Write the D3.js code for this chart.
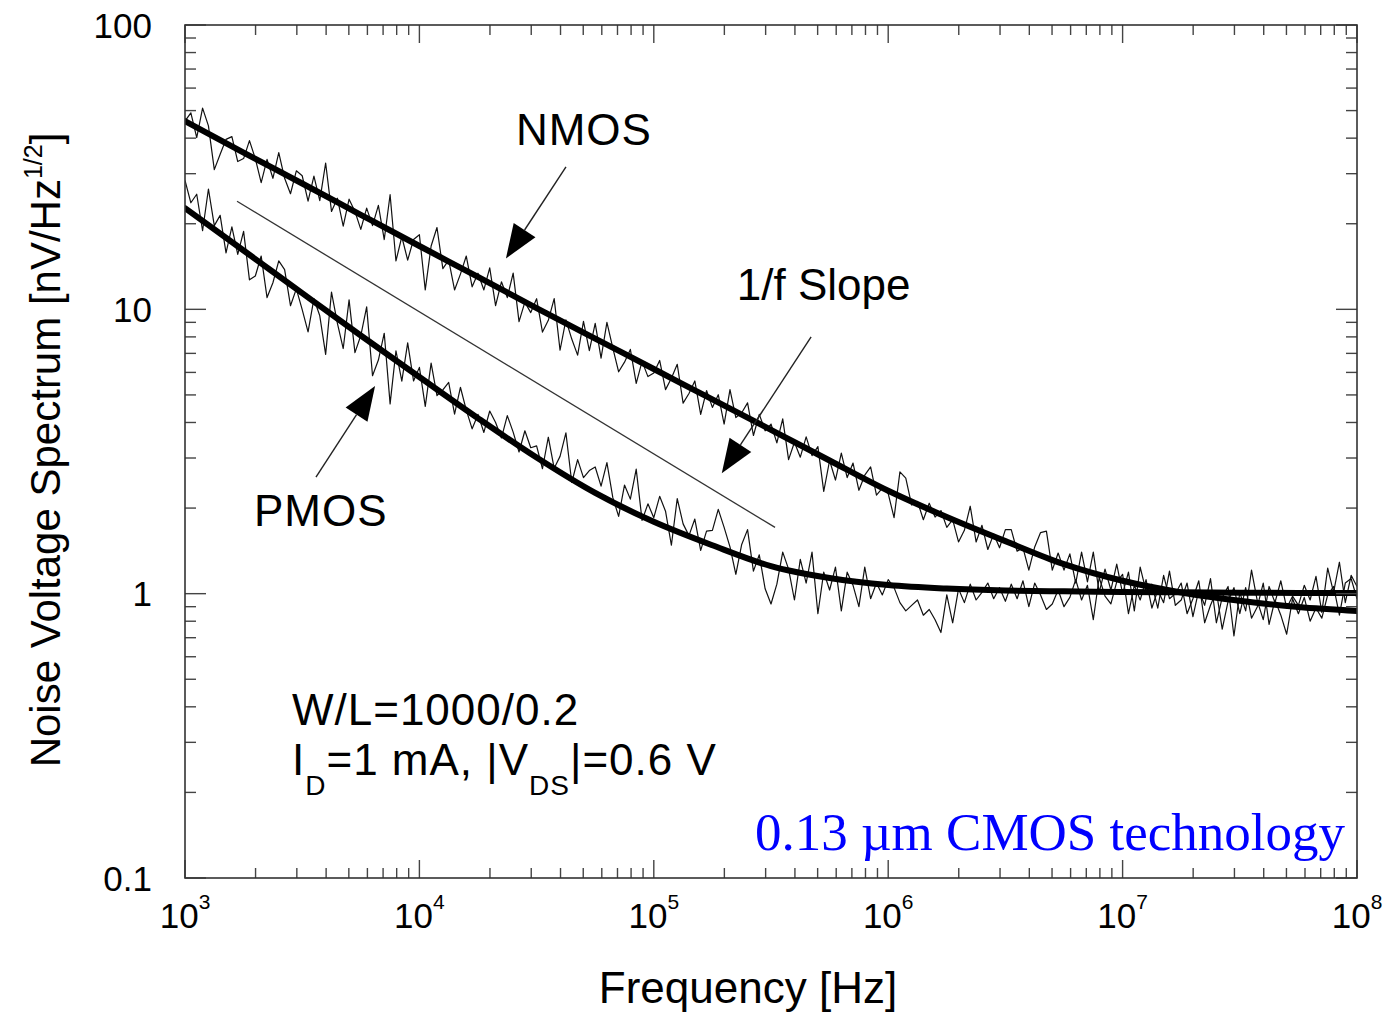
<!DOCTYPE html>
<html lang="en">
<head>
  <meta charset="UTF-8">
  <title>Noise Voltage Spectrum</title>
  <script src="https://d3js.org/d3.v7.min.js"></script>
  <style>
    body {
      margin: 0;
      background-color: #ffffff;
    }
    svg {
      display: block;
      font-family: "Liberation Sans", Arial, sans-serif;
    }
  </style>
</head>
<body>
  <div id="chart"></div>

  <script>
    // fitted curves, sampled every quarter decade from 1 kHz to 100 MHz
    const fitFreq = [1e3, 1.778e3, 3.162e3, 5.623e3, 1e4, 1.778e4, 3.162e4, 5.623e4, 1e5, 1.778e5, 3.162e5,
      5.623e5, 1e6, 1.778e6, 3.162e6, 5.623e6, 1e7, 1.778e7, 3.162e7, 5.623e7, 1e8];
    const nmosFit = [45.9, 35.6, 27.7, 21.5, 16.7, 13.0, 10.1, 7.89, 6.17, 4.82, 3.77,
      2.94, 2.30, 1.86, 1.53, 1.27, 1.11, 1.01, 0.944, 0.897, 0.869];
    const pmosFit = [22.7, 16.1, 11.4, 8.09, 5.78, 4.14, 3.01, 2.26, 1.79, 1.48, 1.25,
      1.135, 1.072, 1.042, 1.026, 1.019, 1.014, 1.011, 1.008, 1.006, 1.005];

    // measured spectra, 40 points per decade from 1 kHz
    const pointsPerDecade = 40;
    const nmosNoise = [
      45.9, 49.1, 40.2, 51.0, 44.2, 31.0, 35.1, 39.6, 40.5, 33.1,
      33.9, 39.2, 33.9, 27.9, 33.7, 28.9, 35.6, 28.9, 25.5, 30.7,
      29.5, 24.0, 29.4, 24.1, 32.7, 22.1, 24.6, 19.6, 24.4, 22.1,
      19.1, 22.7, 19.7, 23.2, 17.6, 25.3, 14.8, 18.0, 14.9, 17.6,
      18.3, 11.7, 16.7, 19.4, 13.9, 14.9, 11.7, 13.3, 15.4, 12.0,
      13.4, 11.7, 14.0, 10.3, 12.5, 11.0, 13.4, 9.05, 10.6, 9.74,
      10.9, 8.32, 9.15, 10.9, 7.18, 9.18, 7.86, 6.90, 9.07, 7.16,
      8.92, 6.74, 9.00, 7.32, 6.03, 6.52, 7.23, 5.49, 6.56, 5.80,
      5.97, 6.61, 5.22, 5.72, 6.41, 4.68, 5.06, 5.60, 4.27, 5.18,
      4.52, 5.01, 3.95, 5.22, 4.16, 4.33, 4.69, 3.60, 4.27, 3.74,
      3.95, 3.39, 4.12, 2.96, 3.41, 3.02, 3.56, 3.06, 3.29, 2.29,
      2.94, 2.51, 3.12, 2.56, 2.88, 2.31, 2.61, 2.79, 2.22, 2.35,
      2.25, 1.85, 2.68, 2.55, 2.05, 2.11, 1.82, 2.08, 1.86, 1.96,
      1.71, 1.82, 1.52, 1.67, 2.03, 1.52, 1.74, 1.43, 1.62, 1.45,
      1.68, 1.68, 1.41, 1.45, 1.21, 1.46, 1.64, 1.66, 1.21, 1.39,
      1.21, 1.38, 1.09, 1.40, 1.10, 1.40, 1.01, 1.22, 1.03, 1.27,
      1.00, 1.19, 0.87, 1.24, 1.02, 1.08, 0.89, 1.16, 0.96, 1.00,
      1.09, 0.85, 0.96, 1.11, 0.79, 0.91, 1.02, 0.75, 0.94, 1.05,
      0.85, 1.05, 0.82, 0.90, 1.09, 0.78, 0.95, 0.84, 0.72, 0.96,
      0.85, 0.97, 0.80, 0.89, 0.82, 0.99, 1.06, 0.84, 1.09, 1.13, 0.96
    ];
    const pmosNoise = [
      28.4, 23.7, 25.4, 18.9, 26.5, 19.7, 21.4, 15.8, 19.5, 15.6,
      18.8, 12.7, 13.1, 15.4, 11.0, 12.4, 14.8, 13.8, 10.3, 11.8,
      9.98, 8.33, 10.9, 9.49, 6.94, 11.5, 8.95, 7.28, 10.8, 7.04,
      8.09, 10.2, 5.84, 6.63, 8.24, 4.65, 7.15, 5.59, 7.62, 5.60,
      6.25, 4.56, 6.47, 4.97, 5.21, 5.53, 4.28, 5.32, 4.42, 3.80,
      4.27, 3.69, 4.39, 4.00, 3.53, 4.23, 3.70, 3.15, 3.74, 3.26,
      3.31, 2.75, 3.55, 2.76, 3.04, 3.68, 2.46, 2.96, 2.56, 2.71,
      2.79, 2.39, 2.89, 2.18, 1.87, 2.41, 2.15, 2.74, 1.81, 2.07,
      1.85, 2.20, 1.95, 1.48, 2.16, 1.76, 1.60, 1.83, 1.42, 1.66,
      1.67, 1.98, 1.71, 1.46, 1.17, 1.49, 1.68, 1.20, 1.37, 1.04,
      0.92, 1.08, 1.40, 1.22, 0.95, 1.32, 1.09, 1.40, 0.85, 1.19,
      1.03, 1.24, 0.87, 1.19, 1.07, 0.90, 1.24, 0.96, 1.09, 0.99,
      1.12, 1.05, 0.93, 0.87, 0.91, 0.95, 0.84, 0.88, 0.81, 0.73,
      0.99, 0.79, 1.04, 0.93, 1.08, 0.95, 1.01, 1.09, 0.96, 1.05,
      0.94, 1.08, 0.96, 1.11, 0.90, 1.09, 0.99, 0.88, 0.92, 1.03,
      0.90, 0.97, 1.12, 0.95, 1.07, 0.81, 1.14, 0.98, 0.92, 1.10,
      1.17, 0.85, 1.07, 0.95, 1.12, 0.89, 1.03, 0.93, 1.20, 0.91,
      0.95, 1.09, 0.83, 1.03, 0.91, 1.13, 0.79, 0.97, 1.06, 0.71,
      1.01, 0.87, 1.21, 0.94, 0.81, 1.06, 0.93, 1.11, 0.89, 0.98,
      0.91, 1.07, 0.95, 1.15, 0.86, 1.23, 1.01, 1.29, 0.93, 1.16, 1.06
    ];

    const xDecades = [3, 4, 5, 6, 7, 8];
    const yTickLabels = ["0.1", "1", "10", "100"];
    const yTickValues = [0.1, 1, 10, 100];

    // 1/f reference line and arrows, in data units [freq, value]
    const slopeLine = [[1667, 24.0], [3.29e5, 1.71]];
    const arrows = [
      { from: [42200, 31.7], to: [23400, 15.1] },
      { from: [469000, 8.0], to: [195000, 2.65] },
      { from: [3620, 2.57], to: [6470, 5.37] }
    ];
    const labels = [
      { text: "NMOS", f: 25800, v: 37.8, spacing: 1 },
      { text: "1/f Slope", f: 226000, v: 10.8, spacing: 0 },
      { text: "PMOS", f: 1970, v: 1.73, spacing: 1 },
      { text: "W/L=1000/0.2", f: 2860, v: 0.345, spacing: 1 }
    ];

    const width = 1390, height = 1013;
    const margin = { top: 25, right: 33, bottom: 135, left: 185 };
    const W = width - margin.left - margin.right;
    const H = height - margin.top - margin.bottom;

    const svg = d3.select("#chart").append("svg")
      .attr("width", width)
      .attr("height", height);

    const g = svg.append("g")
      .attr("transform", `translate(${margin.left},${margin.top})`);

    const x = d3.scaleLog().domain([1e3, 1e8]).range([0, W]);
    const y = d3.scaleLog().domain([0.1, 100]).range([H, 0]);

    const noiseFreq = nmosNoise.map((d, i) => 1e3 * Math.pow(10, i / pointsPerDecade));

    // clip so nothing spills past the frame
    svg.append("defs").append("clipPath").attr("id", "plotClip")
      .append("rect").attr("width", W).attr("height", H);

    const plot = g.append("g").attr("clip-path", "url(#plotClip)");

    const noiseLine = d3.line()
      .x((d, i) => x(noiseFreq[i]))
      .y(d => y(d));

    [nmosNoise, pmosNoise].forEach(series => {
      plot.append("path")
        .datum(series)
        .attr("d", noiseLine)
        .attr("fill", "none")
        .attr("stroke", "#111")
        .attr("stroke-width", 1.2)
        .attr("stroke-linejoin", "round");
    });

    const fitLine = d3.line()
      .x((d, i) => x(fitFreq[i]))
      .y(d => y(d))
      .curve(d3.curveMonotoneX);

    [nmosFit, pmosFit].forEach(series => {
      plot.append("path")
        .datum(series)
        .attr("d", fitLine)
        .attr("fill", "none")
        .attr("stroke", "#000")
        .attr("stroke-width", 6)
        .attr("stroke-linecap", "round");
    });

    // 1/f slope reference
    g.append("line")
      .attr("x1", x(slopeLine[0][0])).attr("y1", y(slopeLine[0][1]))
      .attr("x2", x(slopeLine[1][0])).attr("y2", y(slopeLine[1][1]))
      .attr("stroke", "#333")
      .attr("stroke-width", 1.3);

    // arrows
    arrows.forEach(a => {
      const x0 = x(a.from[0]), y0 = y(a.from[1]);
      const x1 = x(a.to[0]), y1 = y(a.to[1]);
      const len = Math.hypot(x1 - x0, y1 - y0);
      const ux = (x1 - x0) / len, uy = (y1 - y0) / len;
      const headLen = 34, headHalf = 13;
      const bx = x1 - ux * headLen, by = y1 - uy * headLen;
      g.append("line")
        .attr("x1", x0).attr("y1", y0)
        .attr("x2", bx).attr("y2", by)
        .attr("stroke", "#222")
        .attr("stroke-width", 1.4);
      g.append("polygon")
        .attr("points", [
          [x1, y1],
          [bx - uy * headHalf, by + ux * headHalf],
          [bx + uy * headHalf, by - ux * headHalf]
        ].map(p => p.join(",")).join(" "))
        .attr("fill", "#000");
    });

    // text annotations
    labels.forEach(l => {
      g.append("text")
        .attr("x", x(l.f))
        .attr("y", y(l.v))
        .attr("font-size", 44)
        .attr("letter-spacing", l.spacing)
        .attr("fill", "#000")
        .text(l.text);
    });

    const idText = g.append("text")
      .attr("x", x(2860))
      .attr("y", y(0.230))
      .attr("font-size", 44)
      .attr("letter-spacing", 1)
      .attr("fill", "#000");
    idText.append("tspan").text("I");
    idText.append("tspan").attr("dy", 20).attr("font-size", 28).text("D");
    idText.append("tspan").attr("dy", -20).text("=1 mA, |V");
    idText.append("tspan").attr("dy", 20).attr("font-size", 28).text("DS");
    idText.append("tspan").attr("dy", -20).text("|=0.6 V");

    g.append("text")
      .attr("x", x(8.89e7))
      .attr("y", y(0.125))
      .attr("text-anchor", "end")
      .attr("font-family", "'Liberation Serif', 'Times New Roman', serif")
      .attr("font-size", 53)
      .attr("fill", "#0000ff")
      .text("0.13 \u00b5m CMOS technology");

    // ticks on all four sides, pointing inward
    const xTicks = [];
    xDecades.forEach(e => {
      for (let m = 1; m <= 9; m++) {
        if (e === 8 && m > 1) break;
        xTicks.push({ v: m * Math.pow(10, e), major: m === 1 });
      }
    });
    const yTicks = [];
    [-1, 0, 1, 2].forEach(e => {
      for (let m = 1; m <= 9; m++) {
        if (e === 2 && m > 1) break;
        yTicks.push({ v: m * Math.pow(10, e), major: m === 1 });
      }
    });

    const tickColor = "#444";
    xTicks.forEach(t => {
      const len = t.major ? 18 : 10;
      const px = x(t.v);
      g.append("line").attr("x1", px).attr("x2", px).attr("y1", H).attr("y2", H - len)
        .attr("stroke", tickColor).attr("stroke-width", 1.4);
      g.append("line").attr("x1", px).attr("x2", px).attr("y1", 0).attr("y2", len)
        .attr("stroke", tickColor).attr("stroke-width", 1.4);
    });
    yTicks.forEach(t => {
      const len = t.major ? 21 : 11;
      const py = y(t.v);
      g.append("line").attr("x1", 0).attr("x2", len).attr("y1", py).attr("y2", py)
        .attr("stroke", tickColor).attr("stroke-width", 1.4);
      g.append("line").attr("x1", W).attr("x2", W - len).attr("y1", py).attr("y2", py)
        .attr("stroke", tickColor).attr("stroke-width", 1.4);
    });

    g.append("rect")
      .attr("width", W)
      .attr("height", H)
      .attr("fill", "none")
      .attr("stroke", "#333")
      .attr("stroke-width", 1.6);

    // tick labels
    xDecades.forEach(e => {
      const t = g.append("text")
        .attr("x", x(Math.pow(10, e)))
        .attr("y", H + 50)
        .attr("text-anchor", "middle")
        .attr("font-size", 35)
        .attr("fill", "#000");
      t.append("tspan").text("10");
      t.append("tspan").attr("dy", -19).attr("font-size", 21).text(e);
    });

    yTickValues.forEach((v, i) => {
      g.append("text")
        .attr("x", -33)
        .attr("y", y(v))
        .attr("dy", "0.36em")
        .attr("text-anchor", "end")
        .attr("font-size", 35)
        .attr("fill", "#000")
        .text(yTickLabels[i]);
    });

    // axis titles
    g.append("text")
      .attr("x", W / 2 - 23)
      .attr("y", H + 125)
      .attr("text-anchor", "middle")
      .attr("font-size", 44)
      .attr("fill", "#000")
      .text("Frequency [Hz]");

    const yTitle = svg.append("text")
      .attr("transform", `translate(60,${margin.top + 425}) rotate(-90)`)
      .attr("text-anchor", "middle")
      .attr("font-size", 42)
      .attr("fill", "#000");
    yTitle.append("tspan").text("Noise Voltage Spectrum [nV/Hz");
    yTitle.append("tspan").attr("dy", -18).attr("font-size", 25).text("1/2");
    yTitle.append("tspan").attr("dy", 18).text("]");
  </script>
</body>
</html>
